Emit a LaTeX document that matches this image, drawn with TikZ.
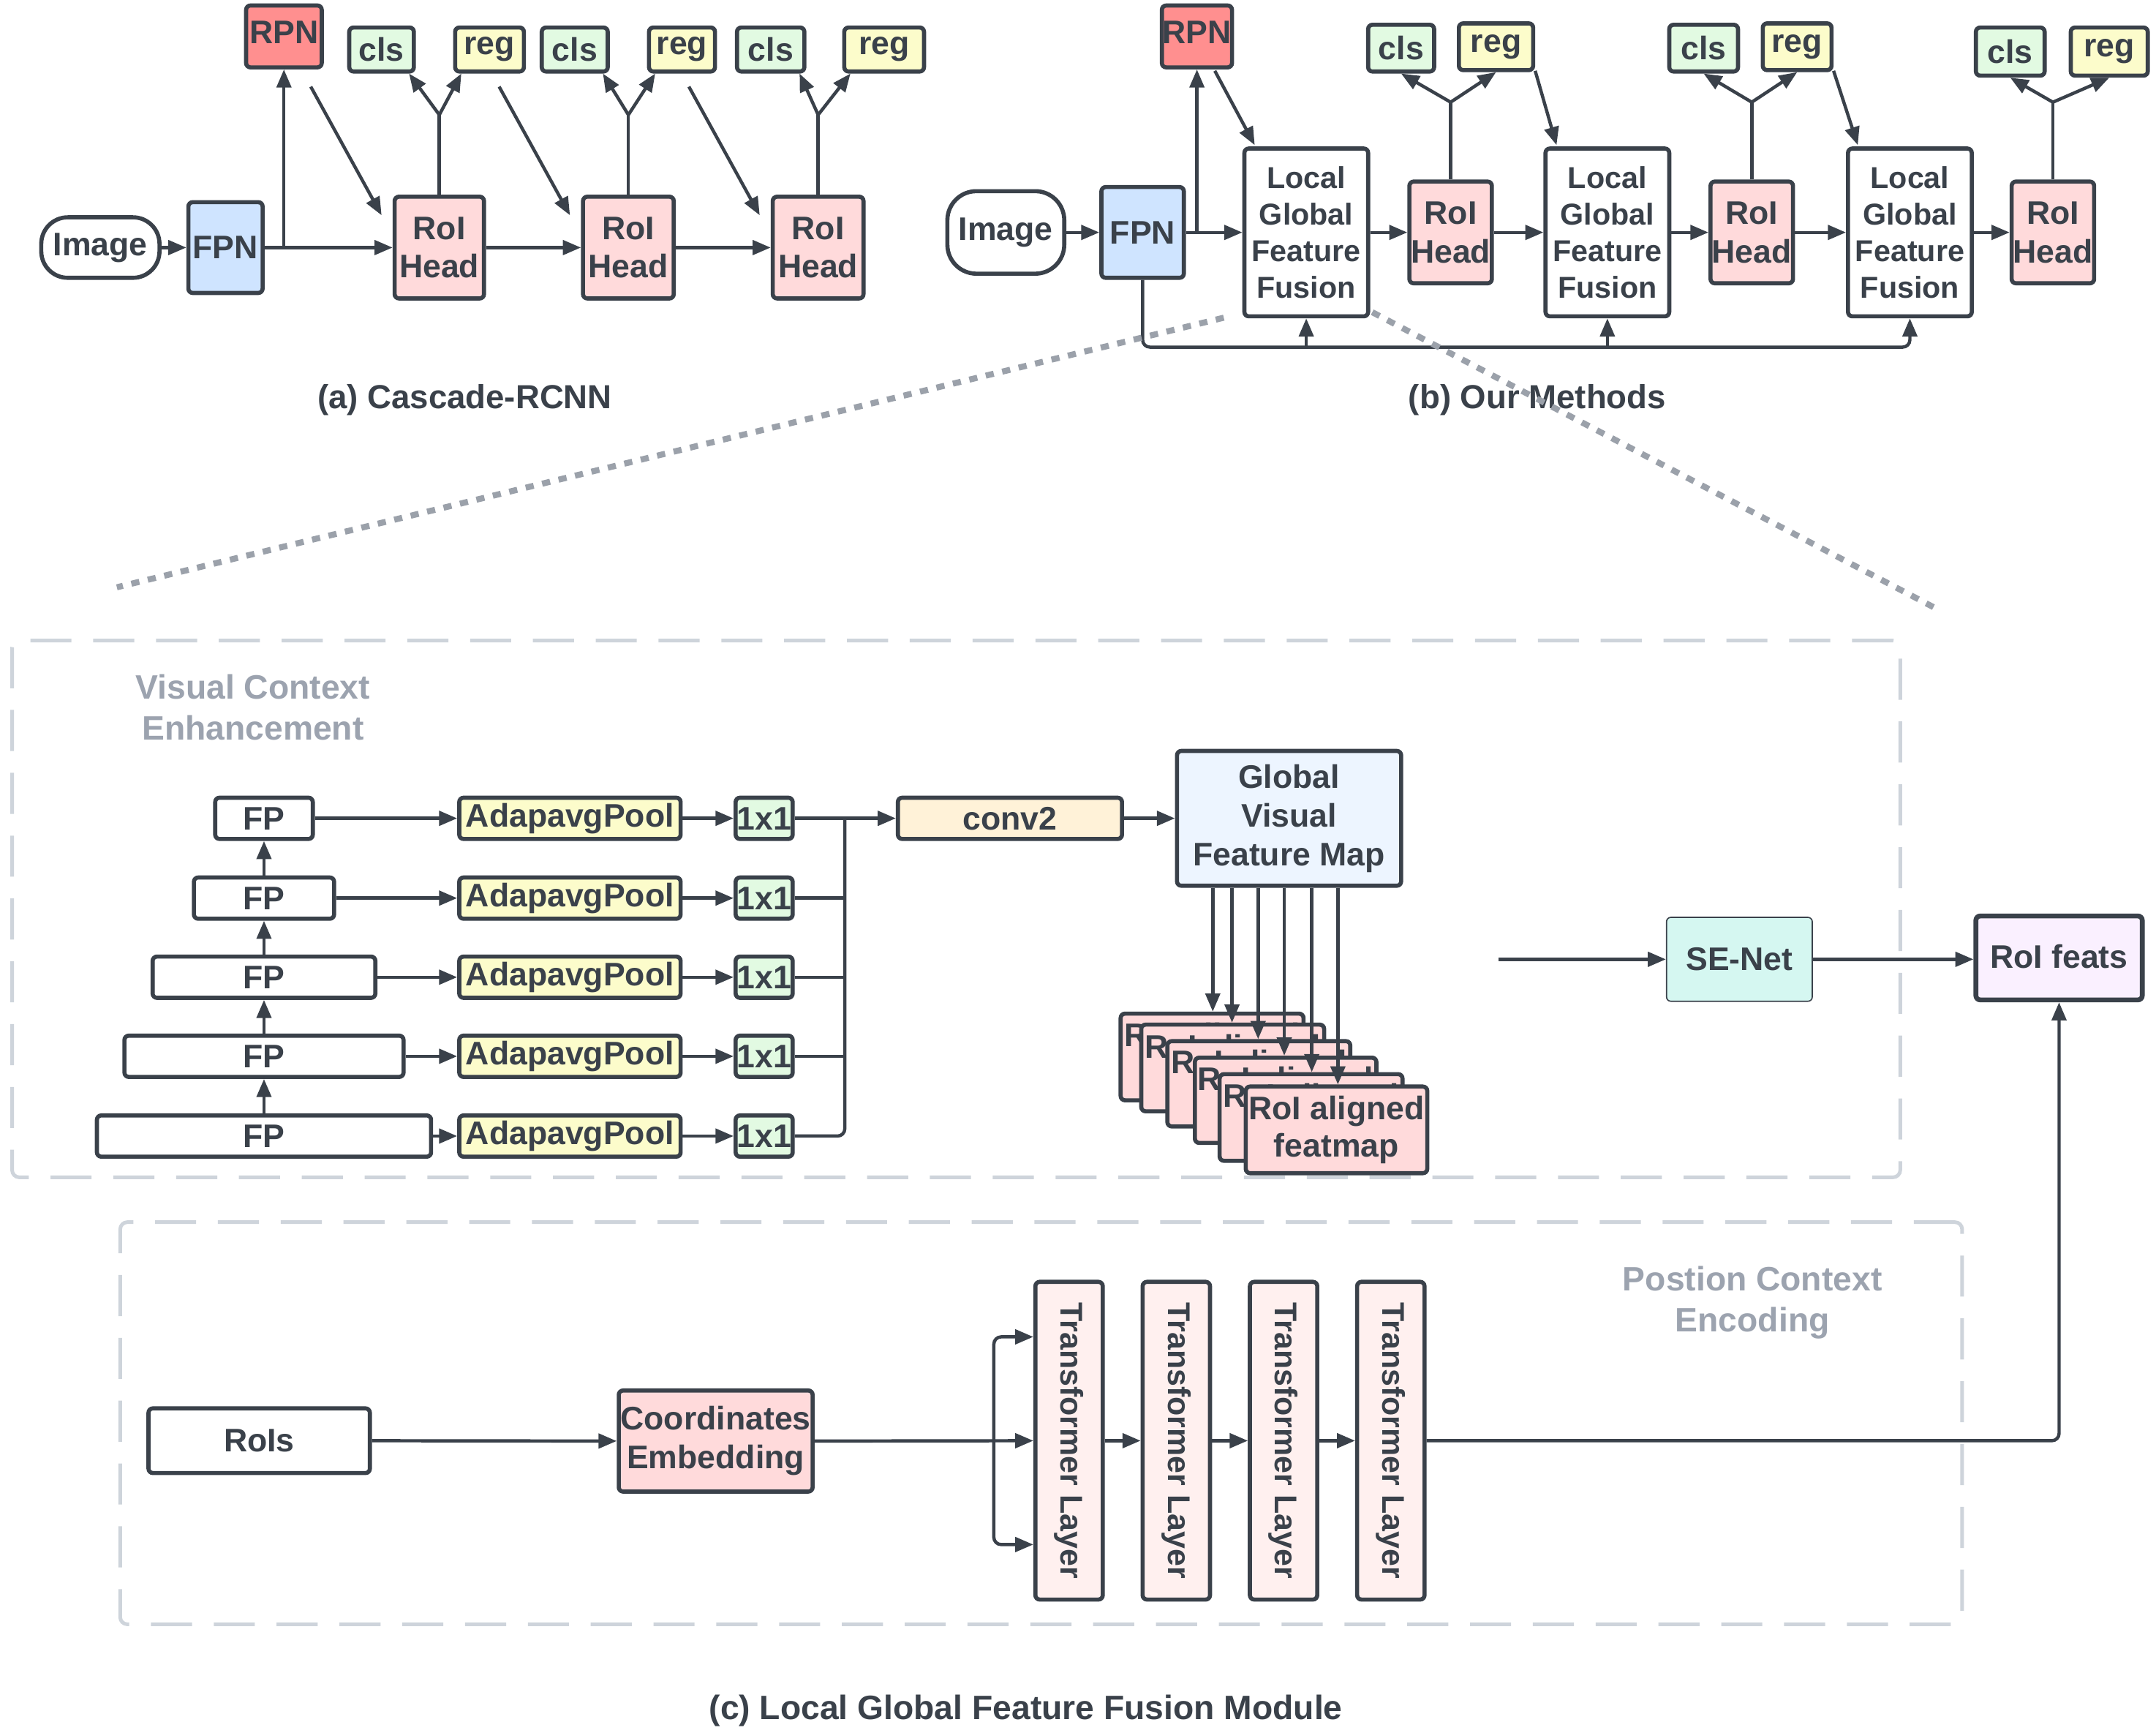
\documentclass[tikz,border=0pt]{standalone}
\usepackage{fontspec}
\setmainfont{Liberation Sans}
\usetikzlibrary{arrows.meta,calc}
\definecolor{dk}{HTML}{3A414A}
\definecolor{rpnc}{HTML}{FF8F8F}
\definecolor{roic}{HTML}{FFDADB}
\definecolor{fpnc}{HTML}{CFE4FF}
\definecolor{clsc}{HTML}{E2FAE2}
\definecolor{regc}{HTML}{FCFCCB}
\definecolor{convc}{HTML}{FFF2D8}
\definecolor{gvc}{HTML}{EDF5FF}
\definecolor{sec}{HTML}{D5F7F1}
\definecolor{featc}{HTML}{FAF0FF}
\definecolor{tfc}{HTML}{FFF0EF}
\definecolor{dashc}{HTML}{CED4DB}
\definecolor{dotc}{HTML}{9BA1AA}
\definecolor{grayt}{HTML}{9CA3AF}
\tikzset{
  bx/.style={draw=dk, line width=1.7pt, rounded corners=1.8pt, text=dk,
    font=\bfseries\fontsize{13.5}{16}\selectfont, align=center, inner sep=0pt},
  lgbx/.style={bx, fill=white, font=\bfseries\fontsize{12.5}{15.2}\selectfont},
  conn/.style={draw=dk, line width=1.35pt},
  arr/.style={conn, -{Triangle[length=7.5pt,width=6pt]}},
  ttl/.style={text=dk, font=\bfseries\fontsize{13.8}{16}\selectfont, inner sep=0pt},
  glbl/.style={text=grayt, font=\bfseries\fontsize{14}{17}\selectfont, align=center, inner sep=0pt},
  dsh/.style={draw=dashc, line width=1.5pt, dash pattern=on 17pt off 9pt, rounded corners=3pt, inner sep=0pt},
  dotl/.style={draw=dotc, line width=2.5pt, dash pattern=on 3.4pt off 3.6pt},
  lbl/.style={text=dk, font=\bfseries\fontsize{13}{16}\selectfont, inner sep=0pt}
}
% box by corners: style, x1, y1, x2, y2, name, text
\newcommand\mybx[7]{\node[#1, minimum width={((#4)-(#2))*0.02cm}, minimum height={((#5)-(#3))*0.02cm}] (#6) at ({((#2)+(#4))/2},{((#3)+(#5))/2}) {#7};}
\begin{document}
\begin{tikzpicture}[x=0.02cm, y=-0.02cm]
\useasboundingbox (0,0) rectangle (1568,1260);
\fill[white] (0,0) rectangle (1568,1260);

% ================= (a) Cascade-RCNN =================
\mybx{bx, rounded corners=11pt, fill=white}{30}{158}{116}{202}{imgA}{Image}
\mybx{bx, fill=fpnc}{137}{147}{191}{213}{fpnA}{FPN}
\mybx{bx, fill=rpnc}{179}{4}{234}{49}{rpnA}{\raisebox{3.5pt}{RPN}}
\mybx{bx, fill=clsc}{254}{20}{301}{52}{clsA1}{cls}
\mybx{bx, fill=regc}{331}{20}{381}{52}{regA1}{reg}
\mybx{bx, fill=clsc}{394}{20}{442}{52}{clsA2}{cls}
\mybx{bx, fill=regc}{472}{20}{520}{52}{regA2}{reg}
\mybx{bx, fill=clsc}{536}{20}{585}{52}{clsA3}{cls}
\mybx{bx, fill=regc}{614}{20}{672}{52}{regA3}{reg}
\mybx{bx, fill=roic}{287}{143}{352}{217}{roiA1}{RoI\\Head}
\mybx{bx, fill=roic}{424}{143}{490}{217}{roiA2}{RoI\\Head}
\mybx{bx, fill=roic}{562}{143}{628}{217}{roiA3}{RoI\\Head}

\draw[arr] (imgA.east) -- (fpnA.west);
\draw[arr] (fpnA.east) -- (roiA1.west);
\draw[arr] (roiA1.east) -- (roiA2.west);
\draw[arr] (roiA2.east) -- (roiA3.west);
\coordinate (jA) at (206.5,180);
\draw[arr] (jA) -- (jA |- rpnA.south);
\coordinate (dA1) at (226,63);
\coordinate (dA2) at (363,63);
\coordinate (dA3) at (501,63);
\draw[arr] (dA1) -- ($(roiA1.north west)+(-8,15)$);
\draw[arr] (dA2) -- ($(roiA2.north west)+(-8,15)$);
\draw[arr] (dA3) -- ($(roiA3.north west)+(-8,15)$);
\foreach \i in {1,2,3}{
  \draw[conn] (roiA\i.north) -- (roiA\i.north |- 0,83.5) coordinate (sA\i);
  \draw[arr] (sA\i) -- ($(clsA\i.south east)+(-5,0)$);
  \draw[arr] (sA\i) -- ($(regA\i.south west)+(6,0)$);
}
\node[ttl] (tA) at (338,291) {(a) Cascade-RCNN};

% ================= (b) Our Methods =================
\mybx{bx, rounded corners=12pt, fill=white}{689}{139}{774}{199}{imgB}{Image}
\mybx{bx, fill=fpnc}{801}{136}{861}{202}{fpnB}{FPN}
\mybx{bx, fill=rpnc}{845}{4}{896}{49}{rpnB}{\raisebox{3.5pt}{RPN}}
\mybx{lgbx}{905}{108}{995}{230}{lgB1}{Local\\Global\\Feature\\Fusion}
\mybx{lgbx}{1124}{108}{1214}{230}{lgB2}{Local\\Global\\Feature\\Fusion}
\mybx{lgbx}{1344}{108}{1434}{230}{lgB3}{Local\\Global\\Feature\\Fusion}
\mybx{bx, fill=roic}{1025}{132}{1085}{206}{roiB1}{RoI\\Head}
\mybx{bx, fill=roic}{1244}{132}{1304}{206}{roiB2}{RoI\\Head}
\mybx{bx, fill=roic}{1463}{132}{1523}{206}{roiB3}{RoI\\Head}
\mybx{bx, fill=clsc}{995}{18}{1043}{52}{clsB1}{cls}
\mybx{bx, fill=regc}{1061}{17}{1115}{51}{regB1}{reg}
\mybx{bx, fill=clsc}{1214}{18}{1264}{52}{clsB2}{cls}
\mybx{bx, fill=regc}{1282}{17}{1332}{51}{regB2}{reg}
\mybx{bx, fill=clsc}{1437}{20}{1487}{55}{clsB3}{cls}
\mybx{bx, fill=regc}{1506}{20}{1562}{55}{regB3}{reg}

\draw[arr] (imgB.east) -- (fpnB.west);
\draw[arr] (fpnB.east) -- (lgB1.west);
\draw[arr] (lgB1.east) -- (roiB1.west);
\draw[arr] (roiB1.east) -- (lgB2.west);
\draw[arr] (lgB2.east) -- (roiB2.west);
\draw[arr] (roiB2.east) -- (lgB3.west);
\draw[arr] (lgB3.east) -- (roiB3.west);
\coordinate (jB) at (870.5,169);
\draw[arr] (jB) -- (jB |- rpnB.south);
\draw[arr] ($(rpnB.south east)+(-14,1)$) -- ($(lgB1.north west)+(9,-1)$);
\draw[arr] ($(regB1.south east)+(0,-1)$) -- ($(lgB2.north west)+(9.5,-1)$);
\draw[arr] ($(regB2.south east)+(0,-1)$) -- ($(lgB3.north west)+(8.6,-1)$);
\foreach \i in {1,2,3}{
  \draw[conn] (roiB\i.north) -- (roiB\i.north |- 0,74.3) coordinate (sB\i);
  \draw[arr] (sB\i) -- (clsB\i.south);
  \draw[arr] (sB\i) -- (regB\i.south);
}
\coordinate (busB) at (831,252.4);
\draw[arr, rounded corners=3pt] (fpnB.south) -- (busB) -| (lgB3.south);
\draw[arr] (lgB1.south |- busB) -- (lgB1.south);
\draw[arr] (lgB2.south |- busB) -- (lgB2.south);
\node[ttl] (tB) at (1118,291) {(b) Our Methods};

% ================= (c) dashed containers =================
\mybx{dsh}{8.8}{465.7}{1382}{856}{vceBox}{}
\mybx{dsh}{87.4}{888.6}{1427}{1181}{pceBox}{}
\node[glbl] (vce) at (184,514.5) {Visual Context\\Enhancement};
\node[glbl] (pce) at (1274.5,947) {Postion Context\\Encoding};

% FP pyramid
\mybx{bx, fill=white}{156.5}{580}{227.5}{610}{fp1}{FP}
\mybx{bx, fill=white}{141}{638}{243}{668}{fp2}{FP}
\mybx{bx, fill=white}{111}{695.5}{273}{725.5}{fp3}{FP}
\mybx{bx, fill=white}{90.5}{753}{293.5}{783}{fp4}{FP}
\mybx{bx, fill=white}{70.5}{811}{313.5}{841}{fp5}{FP}
\foreach \i/\ya/\yb in {1/580/610,2/638/668,3/695.5/725.5,4/753/783,5/811/841}{
  \mybx{bx, fill=regc}{334}{\ya}{495}{\yb}{ap\i}{\raisebox{-1.5pt}{AdapavgPool}}
  \mybx{bx, fill=clsc}{535}{\ya}{576.5}{\yb}{one\i}{\raisebox{-1pt}{1x1}}
  \draw[arr] (fp\i.east) -- (ap\i.west);
  \draw[arr] (ap\i.east) -- (one\i.west);
}
\draw[arr] (fp5.north) -- (fp4.south);
\draw[arr] (fp4.north) -- (fp3.south);
\draw[arr] (fp3.north) -- (fp2.south);
\draw[arr] (fp2.north) -- (fp1.south);

\mybx{bx, fill=convc}{653}{580}{816}{610}{conv}{conv2}
\mybx{bx, fill=gvc}{856}{546}{1019}{644}{gvfm}{Global\\Visual\\Feature Map}
\coordinate (busC) at (614.4,595);
\draw[arr] (one1.east) -- (conv.west);
\draw[conn, rounded corners=3pt] (one5.east) -| (busC);
\draw[conn] (one2.east) -- (one2.east -| busC);
\draw[conn] (one3.east) -- (one3.east -| busC);
\draw[conn] (one4.east) -- (one4.east -| busC);
\draw[arr] (conv.east) -- (gvfm.west);

% stacked RoI aligned featmaps
\tikzset{stk/.style={bx, fill=roic, font=\bfseries\fontsize{13.5}{15.4}\selectfont}}
\mybx{stk}{815}{737}{948}{800}{stk1}{RoI aligned\\featmap}
\mybx{stk}{830}{745}{963}{808}{stk2}{RoI aligned\\featmap}
\mybx{stk}{849}{757}{982}{819}{stk3}{RoI aligned\\featmap}
\mybx{stk}{869}{769}{1001}{831}{stk4}{RoI aligned\\featmap}
\mybx{stk}{887}{781}{1020}{844}{stk5}{RoI aligned\\featmap}
\mybx{stk}{906}{790}{1038}{853}{stk6}{RoI aligned\\featmap}
\foreach \i/\x in {1/882,2/896,3/915,4/934,5/954,6/973}{
  \draw[arr] (gvfm.south -| \x,0) -- (stk\i.north -| \x,0);
}

% SE-Net and RoI feats
\mybx{bx, line width=0.5pt, fill=sec}{1212}{667}{1318}{728}{se}{SE-Net}
\mybx{bx, line width=2pt, fill=featc}{1437}{666}{1558}{727}{feat}{\raisebox{1.5pt}{RoI feats}}
\coordinate (seIn) at (1090,697.5);
\draw[arr] (seIn) -- (se.west);
\draw[arr] (se.east) -- (feat.west |- se.east);

% Position context encoding
\mybx{bx, fill=white}{108}{1024}{269}{1071}{rois}{RoIs}
\mybx{bx, fill=roic}{450}{1011}{591}{1084.5}{ce}{Coordinates\\Embedding}
\foreach \i/\x in {1/753,2/831,3/909,4/987}{
  \mybx{bx, fill=tfc}{\x}{932}{\x+49}{1163}{tf\i}{}
  \node[lbl, rotate=-90] (tft\i) at (tf\i.center) {Transformer Layer};
}
\draw[arr] (rois.east) -- (ce.west);
\coordinate (busT) at (722.8,1047.5);
\draw[arr] (ce.east) -- (tf1.west);
\draw[arr, rounded corners=3pt] (busT) |- (tf1.west |- 0,972);
\draw[arr, rounded corners=3pt] (busT) |- (tf1.west |- 0,1123);
\draw[arr] (tf1.east) -- (tf2.west);
\draw[arr] (tf2.east) -- (tf3.west);
\draw[arr] (tf3.east) -- (tf4.west);
\draw[arr, rounded corners=3pt] (tf4.east) -| (feat.south);

\node[ttl, font=\bfseries\fontsize{14}{16}\selectfont] (tC) at (746,1244) {(c) Local Global Feature Fusion Module};

% zoom-out dotted lines
\coordinate (z1a) at (890,231);
\coordinate (z1b) at (85,427);
\coordinate (z2a) at (998,227);
\coordinate (z2b) at (1411,444);
\draw[dotl] (z1a) -- (z1b);
\draw[dotl] (z2a) -- (z2b);
\end{tikzpicture}
\end{document}
